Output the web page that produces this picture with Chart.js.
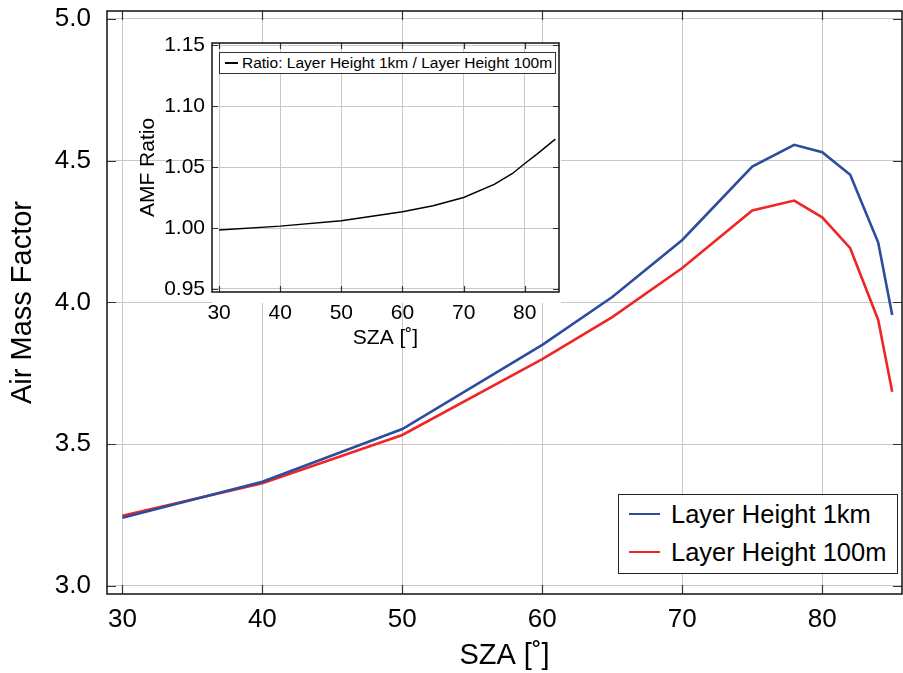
<!DOCTYPE html>
<html>
<head>
<meta charset="utf-8">
<script src="https://cdn.jsdelivr.net/npm/chart.js@4.4.1/dist/chart.umd.min.js"></script>
<style>
  body { margin: 0; background: #fff; }
  #wrap { position: relative; width: 903px; height: 673px; font-family: 'Liberation Sans', Arial, sans-serif; }
  #mainChart { position: absolute; left: 0; top: 0; }
  #insetChart { position: absolute; left: 120px; top: 30px; }
  .legend { position: absolute; background: #fff; color: #000; white-space: nowrap; }
  .legend .row { position: absolute; left: 0; right: 0; }
  .legend .swatch { position: absolute; }
  .legend .txt { position: absolute; transform: translateY(-50%); }
</style>
</head>
<body>
<div id="wrap">
  <canvas id="mainChart" width="903" height="673"></canvas>
  <canvas id="insetChart" width="450" height="330"></canvas>
  <div id="mainLegend" class="legend" style="left:618px; top:494px; width:278px; height:78px; border:1px solid #222; font-size:25.5px;"></div>
  <div id="insetLegend" class="legend" style="left:219px; top:52px; width:335px; height:20px; border:1px solid #333; font-size:15.5px;"></div>
</div>
<script>
// solar zenith angle [deg]
const sza = [30, 40, 50, 60, 65, 70, 75, 78, 80, 82, 84, 85];
// air mass factor, layer height 1 km
const amf1km = [3.240, 3.367, 3.553, 3.850, 4.019, 4.220, 4.479, 4.556, 4.530, 4.450, 4.211, 3.955];
// air mass factor, layer height 100 m
const amf100m = [3.247, 3.362, 3.532, 3.800, 3.948, 4.121, 4.324, 4.359, 4.300, 4.191, 3.938, 3.685];
// ratio 1km / 100m (inset)
const amfRatio = [0.9984, 1.0016, 1.0060, 1.0134, 1.0183, 1.0251, 1.0358, 1.0448, 1.0530, 1.0607, 1.0689, 1.0730];

const xTicks = [30, 40, 50, 60, 70, 80];
const yTicks = [3.0, 3.5, 4.0, 4.5, 5.0];
const ratioTicks = [0.95, 1.00, 1.05, 1.10, 1.15];

const FONT = "'Liberation Sans', Arial, Helvetica, sans-serif";
Chart.defaults.font.family = FONT;
Chart.defaults.color = "#000";

function toPoints(ys) {
  return sza.map((s, i) => ({ x: s, y: ys[i] }));
}

// frame round the plot area plus small inward tick marks
const framePlugin = {
  id: "frame",
  afterDraw(chart, args, opts) {
    const { ctx, chartArea: a, scales } = chart;
    const len = opts.tickLen;
    ctx.save();
    ctx.strokeStyle = "#333";
    ctx.lineWidth = 1.2;
    ctx.beginPath();
    scales.x.ticks.forEach(t => {
      const px = Math.round(scales.x.getPixelForValue(t.value)) + 0.5;
      ctx.moveTo(px, a.bottom); ctx.lineTo(px, a.bottom - len);
      ctx.moveTo(px, a.top); ctx.lineTo(px, a.top + len);
    });
    scales.y.ticks.forEach(t => {
      const py = Math.round(scales.y.getPixelForValue(t.value)) + 0.5;
      ctx.moveTo(a.left, py); ctx.lineTo(a.left + len, py);
      ctx.moveTo(a.right, py); ctx.lineTo(a.right - len, py);
    });
    ctx.stroke();
    ctx.strokeStyle = "#111";
    ctx.lineWidth = 1.5;
    ctx.strokeRect(a.left, a.top, a.right - a.left, a.bottom - a.top);
    ctx.restore();
  }
};

// white box behind the inset axes
const insetBgPlugin = {
  id: "insetBg",
  beforeDraw(chart) {
    const { ctx, chartArea: a } = chart;
    ctx.save();
    ctx.fillStyle = "#fff";
    ctx.fillRect(a.left, a.top, a.right - a.left + 2, a.bottom - a.top + 11);
    ctx.restore();
  }
};

function fixWidth(w) {
  return function(scale) {
    scale.width = w;
    scale.paddingTop = 0; scale.paddingBottom = 0;
    scale.paddingLeft = 0; scale.paddingRight = 0;
  };
}
function fixHeight(h) {
  return function(scale) {
    scale.height = h;
    scale.paddingTop = 0; scale.paddingBottom = 0;
    scale.paddingLeft = 0; scale.paddingRight = 0;
  };
}

const mainChart = new Chart(document.getElementById("mainChart").getContext("2d"), {
  type: "line",
  data: {
    datasets: [
      {
        label: "Layer Height 1km",
        data: toPoints(amf1km),
        borderColor: "#2c4c9e",
        borderWidth: 2.6,
        pointRadius: 0,
        tension: 0,
      },
      {
        label: "Layer Height 100m",
        data: toPoints(amf100m),
        borderColor: "#ee2626",
        borderWidth: 2.6,
        pointRadius: 0,
        tension: 0,
      },
    ],
  },
  options: {
    responsive: false,
    animation: false,
    layout: { padding: { top: 11, right: 1, left: 0, bottom: 0 } },
    plugins: {
      legend: { display: false },
      tooltip: { enabled: false },
      frame: { tickLen: 9 },
    },
    scales: {
      x: {
        type: "linear",
        min: 28.9,
        max: 85.7,
        afterBuildTicks: scale => { scale.ticks = xTicks.map(v => ({ value: v })); },
        afterFit: fixHeight(79),
        grid: { color: "#c8c8c8", lineWidth: 1, drawTicks: false },
        border: { display: false },
        ticks: { padding: 10, font: { size: 26 }, callback: v => String(v) },
        title: { display: true, text: "SZA [˚]", font: { size: 29 }, padding: { top: 0, bottom: 0 } },
      },
      y: {
        type: "linear",
        min: 2.971,
        max: 5.028,
        afterBuildTicks: scale => { scale.ticks = yTicks.map(v => ({ value: v })); },
        afterFit: fixWidth(107),
        grid: { color: "#c8c8c8", lineWidth: 1, drawTicks: false },
        border: { display: false },
        ticks: { padding: 16, font: { size: 26 }, callback: v => v.toFixed(1) },
        title: { display: true, text: "Air Mass Factor", font: { size: 29 }, padding: { top: 6, bottom: 0 } },
      },
    },
  },
  plugins: [framePlugin],
});

const insetChart = new Chart(document.getElementById("insetChart").getContext("2d"), {
  type: "line",
  data: {
    datasets: [
      {
        label: "Ratio: Layer Height 1km / Layer Height 100m",
        data: toPoints(amfRatio),
        borderColor: "#000",
        borderWidth: 1.4,
        pointRadius: 0,
        tension: 0,
      },
    ],
  },
  options: {
    responsive: false,
    animation: false,
    layout: { padding: { top: 13, right: 11, left: 0, bottom: 0 } },
    plugins: {
      legend: { display: false },
      tooltip: { enabled: false },
      frame: { tickLen: 6 },
    },
    scales: {
      x: {
        type: "linear",
        min: 28.84,
        max: 85.6,
        afterBuildTicks: scale => { scale.ticks = xTicks.map(v => ({ value: v })); },
        afterFit: fixHeight(68),
        grid: { color: "#c8c8c8", lineWidth: 1, drawTicks: false },
        border: { display: false },
        ticks: { padding: 9, font: { size: 21 }, callback: v => String(v) },
        title: { display: true, text: "SZA [˚]", font: { size: 21 }, padding: { top: 0, bottom: 9 } },
      },
      y: {
        type: "linear",
        min: 0.9475,
        max: 1.1519,
        afterBuildTicks: scale => { scale.ticks = ratioTicks.map(v => ({ value: v })); },
        afterFit: fixWidth(92),
        grid: { color: "#c8c8c8", lineWidth: 1, drawTicks: false },
        border: { display: false },
        ticks: { padding: 7, font: { size: 21 }, callback: v => v.toFixed(2) },
        title: { display: true, text: "AMF Ratio", font: { size: 21 }, padding: { top: 16, bottom: 0 } },
      },
    },
  },
  plugins: [insetBgPlugin, framePlugin],
});

// boxed legends drawn as html, built from the dataset labels and colours
function buildLegend(el, chart, opt) {
  chart.data.datasets.forEach((ds, i) => {
    const row = document.createElement("div");
    row.className = "row";
    row.style.top = (opt.first + i * opt.step) + "px";
    const sw = document.createElement("div");
    sw.className = "swatch";
    sw.style.left = opt.swLeft + "px";
    sw.style.width = opt.swWidth + "px";
    sw.style.height = opt.swHeight + "px";
    sw.style.top = (-opt.swHeight / 2) + "px";
    sw.style.background = ds.borderColor;
    const tx = document.createElement("div");
    tx.className = "txt";
    tx.style.left = opt.txtLeft + "px";
    tx.textContent = ds.label;
    row.appendChild(sw);
    row.appendChild(tx);
    el.appendChild(row);
  });
}

buildLegend(document.getElementById("mainLegend"), mainChart,
  { first: 19, step: 38, swLeft: 10, swWidth: 31, swHeight: 2.6, txtLeft: 52 });
buildLegend(document.getElementById("insetLegend"), insetChart,
  { first: 10, step: 20, swLeft: 5, swWidth: 13, swHeight: 1.3, txtLeft: 22 });
</script>
</body>
</html>
